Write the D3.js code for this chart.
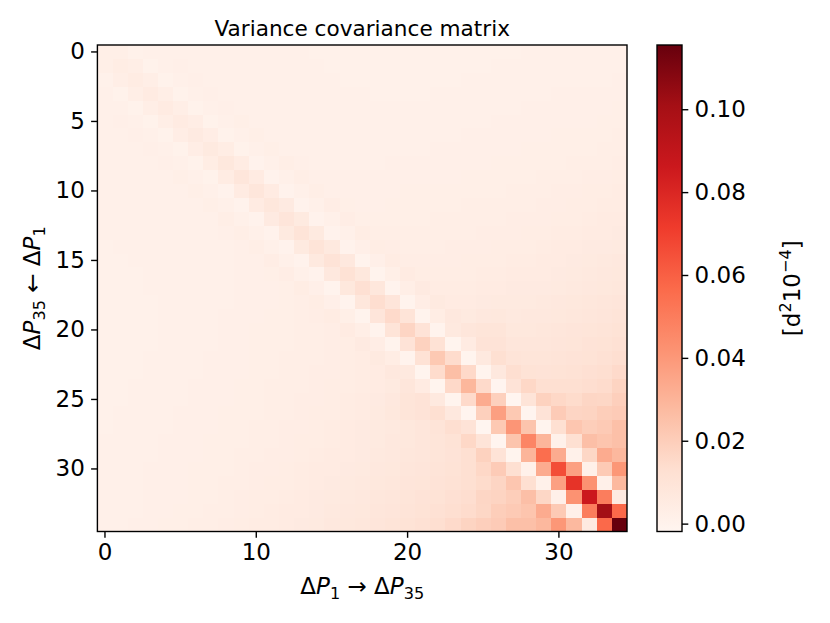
<!DOCTYPE html>
<html>
<head>
<meta charset="utf-8">
<script src="https://cdn.jsdelivr.net/npm/d3@7"></script>
<style>
  html, body { margin: 0; padding: 0; background: #fff; }
  #app { width: 830px; height: 623px; }
  text { font-family: "DejaVu Sans", sans-serif; }
</style>
</head>
<body>
<div id="app"></div>
<script>
// lower triangle of the covariance matrix, row i holds columns 0..i, in units of 1e-3
const covLower = [
  [2.5],
  [2.5, 4],
  [1, 3, 4.5],
  [1.5, 0.5, 3, 5],
  [1.5, 1.5, 0.5, 3, 5],
  [1.5, 2, 1.5, 0.5, 3, 5],
  [1.5, 1.5, 2, 1.5, 0.5, 3.5, 5.5],
  [1.5, 1.5, 1.5, 2, 1.5, 0.5, 3.5, 6],
  [1.5, 1.5, 1.5, 1.5, 2, 1.5, 0.5, 4, 7.5],
  [1.5, 1.5, 1.5, 1.5, 1.5, 2.5, 1.5, 0.5, 4.5, 8.5],
  [1.5, 1.5, 1.5, 1.5, 1.5, 1.5, 2.5, 1.5, 0.3, 5, 8.5],
  [1.5, 1.5, 1.5, 1.5, 1.5, 1.5, 1.5, 2.5, 1.5, 0.3, 5, 8],
  [1.5, 1.5, 1.5, 1.5, 1.5, 1.5, 1.5, 1.5, 3, 1.5, 0, 5.5, 9],
  [1.5, 1.5, 1.5, 1.5, 1.5, 1.5, 1.5, 1.5, 2, 3, 1.5, 0, 6, 10],
  [1, 1.5, 1.5, 1.5, 1.5, 1.5, 1.5, 1.5, 1.5, 2, 3, 1.5, 0, 6, 10],
  [1, 1, 1.5, 1.5, 1.5, 1.5, 1.5, 1.5, 1.5, 2, 2, 3.5, 1.5, 0, 6.5, 10.5],
  [1, 1, 1, 1.5, 1.5, 1.5, 1.5, 1.5, 1.5, 2, 2, 2.5, 3.5, 1.5, 0, 7, 11.5],
  [1, 1, 1, 1.5, 1.5, 1.5, 1.5, 1.5, 1.5, 2, 2, 2, 2.5, 4, 2, -0.3, 7.5, 12.5],
  [1, 1, 1, 1, 1.5, 1.5, 1.5, 1.5, 1.5, 2, 2, 2, 2.5, 3, 4, 2, -0.3, 8, 13.5],
  [1, 1, 1, 1, 1.5, 1.5, 1.5, 1.5, 2, 2, 2, 2.5, 2.5, 3, 3.5, 4.5, 2.5, -0.3, 9, 15],
  [1, 1, 1, 1, 1.5, 1.5, 1.5, 1.5, 2, 2, 2.5, 2.5, 2.5, 3, 3, 3.5, 5, 3, -0.5, 10, 17],
  [1, 1, 1, 1, 1.5, 1.5, 1.5, 1.5, 2, 2, 2.5, 2.5, 2.5, 3, 3, 3.5, 4, 5.5, 3.5, -0.5, 10.5, 18.5],
  [1, 1, 1, 1.5, 1.5, 1.5, 1.5, 2, 2, 2, 2.5, 2.5, 3, 3, 3, 3.5, 4, 4.5, 6, 4, -0.5, 11.5, 22],
  [1, 1, 1, 1.5, 1.5, 1.5, 1.5, 2, 2, 2, 2.5, 2.5, 3, 3, 3.5, 3.5, 4, 4.5, 5, 7, 6.5, -1, 14.3, 26],
  [1, 1, 1.5, 1.5, 1.5, 1.5, 2, 2, 2, 2.5, 2.5, 3, 3, 3, 3.5, 4, 4, 4.5, 5, 6, 8.5, 5, -1, 15.5, 29],
  [1, 1, 1.5, 1.5, 1.5, 1.5, 2, 2, 2, 2.5, 2.5, 3, 3, 3.5, 3.5, 4, 4.5, 5, 5.5, 7, 9.5, 10.5, 6.5, -1, 15, 33],
  [1, 1.5, 1.5, 1.5, 1.5, 2, 2, 2, 2.5, 2.5, 2.5, 3, 3, 3.5, 4, 4, 4.5, 5, 6, 7.5, 9.5, 10.5, 12.7, 7, -1.5, 19, 37.5],
  [1, 1.5, 1.5, 1.5, 1.5, 2, 2, 2, 2.5, 2.5, 3, 3, 3.5, 3.5, 4, 4.5, 5, 5.5, 6, 6.5, 7.5, 8.5, 10, 13, 10.5, -1.9, 22, 41],
  [1.5, 1.5, 1.5, 1.5, 2, 2, 2, 2.5, 2.5, 2.5, 3, 3, 3.5, 4, 4, 4.5, 5, 5.5, 6, 7, 7.5, 8.5, 9.5, 11, 16, 10, -1.5, 24, 47],
  [1.5, 1.5, 1.5, 1.5, 2, 2, 2, 2.5, 2.5, 3, 3, 3.5, 3.5, 4, 4.5, 5, 5, 5.5, 6.5, 7, 8, 8.5, 9.5, 10.5, 12.7, 18.5, 10.5, -1, 29.5, 55.5],
  [1.5, 1.5, 1.5, 2, 2, 2, 2.5, 2.5, 2.5, 3, 3.5, 3.5, 4, 4.5, 5, 5, 5.5, 6, 7, 7.5, 8.5, 9, 10, 11, 12.7, 16, 21, 12.7, 0.8, 33, 66],
  [1.5, 1.5, 1.5, 2, 2, 2, 2.5, 2.5, 3, 3, 3.5, 4, 4, 4.5, 5, 5.5, 6, 6.5, 7.5, 8, 9, 9.5, 10.5, 11.5, 12.7, 14.5, 17, 23, 12.7, 0.8, 37, 75],
  [1.5, 1.5, 1.5, 2, 2, 2, 2.5, 2.5, 3, 3.5, 4, 4, 4.5, 5, 5.5, 6, 6.5, 7, 8, 8.5, 9.5, 10.5, 11, 12.5, 13.5, 16.7, 17.5, 20, 25.8, 16.5, 1.5, 42, 86],
  [1.5, 1.5, 1.5, 2, 2, 2.5, 2.5, 3, 3, 3.5, 4, 4.5, 5, 5, 5.5, 6.5, 7, 7.5, 8.5, 9, 10, 11, 12, 13, 14.3, 16.5, 20, 21.5, 23.5, 33, 21.5, 1.5, 50, 101],
  [1.5, 1.5, 2, 2, 2.5, 2.5, 3, 3, 3.5, 4, 4.5, 4.5, 5, 5.5, 6, 7, 7.5, 8, 9, 10, 11, 12, 13, 15, 17.5, 19.5, 21, 25.5, 25.5, 28.5, 40.5, 28, 5.5, 57, 115.5]
]
const valueUnit = 1e-3

const xTicks = [0, 10, 20, 30]
const yTicks = [0, 5, 10, 15, 20, 25, 30]
const cbarTicks = [0, 0.02, 0.04, 0.06, 0.08, 0.10]

// matplotlib "Reds" anchor colours
const redsStops = ["#fff5f0", "#fee0d2", "#fcbba1", "#fc9272", "#fb6a4a",
                   "#ef3b2c", "#cb181d", "#a50f15", "#67000d"]

//#region 1. Access data
const n = covLower.length
const params = d3.range(n)
const cells = []
params.forEach(i => params.forEach(j => {
  const v = j <= i ? covLower[i][j] : covLower[j][i]
  cells.push({ row: i, col: j, value: v * valueUnit })
}))
const valueAccessor = d => d.value
//#endregion

//#region 2. Dimensions
const dimensions = {
  width: 830,
  height: 623,
  margin: { top: 45, left: 97.4 },
  boundedWidth: 529.6,
  boundedHeight: 486.5,
  cbarX: 657,
  cbarWidth: 25,
}
const fontSize = 23
const tickLen = 6.3
const tickPad = 6.3
const lineW = 1.4
//#endregion

//#region 3. Canvas
const svg = d3.select("#app").append("svg")
    .attr("width", dimensions.width)
    .attr("height", dimensions.height)

const bounds = svg.append("g")
    .attr("transform", `translate(${dimensions.margin.left},${dimensions.margin.top})`)
//#endregion

//#region 4. Scales
const xScale = d3.scaleBand()
  .domain(params)
  .range([0, dimensions.boundedWidth])

const yScale = d3.scaleBand()
  .domain(params)
  .range([0, dimensions.boundedHeight])

const [vmin, vmax] = d3.extent(cells, valueAccessor)
const colorScale = d3.scaleLinear()
  .domain(redsStops.map((c, k) => vmin + (vmax - vmin) * k / (redsStops.length - 1)))
  .range(redsStops)
  .interpolate(d3.interpolateRgb)
  .clamp(true)
//#endregion

//#region 5. Cells
bounds.append("g")
  .selectAll("rect")
  .data(cells)
  .join("rect")
    .attr("x", d => xScale(d.col))
    .attr("y", d => yScale(d.row))
    .attr("width", xScale.bandwidth() + 0.4)
    .attr("height", yScale.bandwidth() + 0.4)
    .attr("fill", d => colorScale(valueAccessor(d)))
    .attr("shape-rendering", "crispEdges")

bounds.append("rect")
    .attr("width", dimensions.boundedWidth)
    .attr("height", dimensions.boundedHeight)
    .attr("fill", "none")
    .attr("stroke", "#000")
    .attr("stroke-width", lineW)
//#endregion

//#region 6. Axes
function styleAxis(g) {
  g.select(".domain").remove()
  g.selectAll(".tick line").attr("stroke", "#000").attr("stroke-width", lineW)
  g.selectAll(".tick text")
    .attr("fill", "#000")
    .style("font-size", `${fontSize}px`)
    .style("font-family", "DejaVu Sans")
}

bounds.append("g")
    .attr("transform", `translate(0,${dimensions.boundedHeight})`)
    .call(d3.axisBottom(xScale).tickValues(xTicks).tickSizeInner(tickLen).tickSizeOuter(0).tickPadding(tickPad))
    .call(styleAxis)

bounds.append("g")
    .call(d3.axisLeft(yScale).tickValues(yTicks).tickSizeInner(tickLen).tickSizeOuter(0).tickPadding(tickPad))
    .call(styleAxis)

// math-like label: upright Δ, italic P, small lowered/raised indices
function mathLabel(sel, parts) {
  const text = sel.append("text")
      .attr("fill", "#000")
      .style("font-size", `${fontSize}px`)
  let shift = 0
  parts.forEach(p => {
    const target = p.sub ? 5 : p.sup ? -9 : 0
    text.append("tspan")
        .attr("dy", target - shift)
        .style("font-size", p.sub || p.sup ? `${fontSize * 0.7}px` : null)
        .style("font-style", p.it ? "italic" : null)
        .text(p.t)
    shift = target
  })
  return text
}

mathLabel(svg, [
  { t: "Δ" }, { t: "P", it: true }, { t: "1", sub: true },
  { t: " → Δ" }, { t: "P", it: true }, { t: "35", sub: true },
]).attr("x", dimensions.margin.left + dimensions.boundedWidth / 2)
  .attr("y", 594)
  .attr("text-anchor", "middle")

mathLabel(svg, [
  { t: "Δ" }, { t: "P", it: true }, { t: "35", sub: true },
  { t: " ← Δ" }, { t: "P", it: true }, { t: "1", sub: true },
]).attr("text-anchor", "middle")
  .attr("transform", `translate(40,${dimensions.margin.top + dimensions.boundedHeight / 2}) rotate(-90)`)

svg.append("text")
    .attr("x", dimensions.margin.left + dimensions.boundedWidth / 2)
    .attr("y", 36)
    .attr("text-anchor", "middle")
    .attr("fill", "#000")
    .style("font-size", "21.6px")
    .text("Variance covariance matrix")
//#endregion

//#region 7. Colorbar
const cbarScale = d3.scaleLinear()
  .domain([vmin, vmax])
  .range([dimensions.boundedHeight, 0])

const grad = svg.append("defs").append("linearGradient")
    .attr("id", "reds")
    .attr("x1", 0).attr("y1", 1).attr("x2", 0).attr("y2", 0)
grad.selectAll("stop")
  .data(redsStops)
  .join("stop")
    .attr("offset", (c, k) => k / (redsStops.length - 1))
    .attr("stop-color", c => c)

const cbar = svg.append("g")
    .attr("transform", `translate(${dimensions.cbarX},${dimensions.margin.top})`)

cbar.append("rect")
    .attr("width", dimensions.cbarWidth)
    .attr("height", dimensions.boundedHeight)
    .attr("fill", "url(#reds)")
    .attr("stroke", "#000")
    .attr("stroke-width", lineW)

cbar.append("g")
    .attr("transform", `translate(${dimensions.cbarWidth},0)`)
    .call(d3.axisRight(cbarScale).tickValues(cbarTicks).tickFormat(d3.format(".2f"))
      .tickSizeInner(tickLen).tickSizeOuter(0).tickPadding(tickPad))
    .call(styleAxis)

mathLabel(svg, [
  { t: "[d" }, { t: "2", sup: true }, { t: "10" }, { t: "−4", sup: true }, { t: "]" },
]).attr("text-anchor", "middle")
  .attr("transform", `translate(800,${dimensions.margin.top + dimensions.boundedHeight / 2}) rotate(-90)`)
//#endregion
</script>
</body>
</html>
